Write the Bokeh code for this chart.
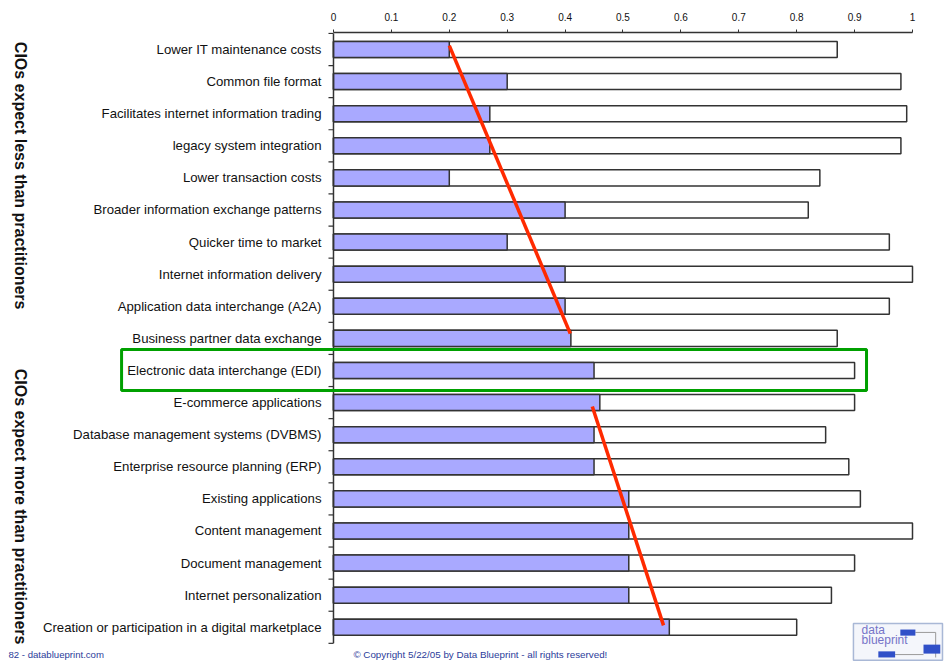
from math import pi
from bokeh.plotting import figure
from bokeh.models import Range1d, LinearAxis, FixedTicker
from bokeh.core.properties import value
from bokeh.embed import file_html
from bokeh.resources import INLINE

# ---------------- data ----------------
categories = [
    "Lower IT maintenance costs",
    "Common file format",
    "Facilitates internet information trading",
    "legacy system integration",
    "Lower transaction costs",
    "Broader information exchange patterns",
    "Quicker time to market",
    "Internet information delivery",
    "Application data interchange (A2A)",
    "Business partner data exchange",
    "Electronic data interchange (EDI)",
    "E-commerce applications",
    "Database management systems (DVBMS)",
    "Enterprise resource planning (ERP)",
    "Existing applications",
    "Content management",
    "Document management",
    "Internet personalization",
    "Creation or participation in a digital marketplace",
]
cio_scores = [0.20, 0.30, 0.27, 0.27, 0.20, 0.40, 0.30, 0.40, 0.40, 0.41,
              0.45, 0.46, 0.45, 0.45, 0.51, 0.51, 0.51, 0.51, 0.58]
practitioner_scores = [0.87, 0.98, 0.99, 0.98, 0.84, 0.82, 0.96, 1.00, 0.96, 0.87,
                       0.90, 0.90, 0.85, 0.89, 0.91, 1.00, 0.90, 0.86, 0.80]

x_ticks = [0.0, 0.1, 0.2, 0.3, 0.4, 0.5, 0.6, 0.7, 0.8, 0.9, 1.0]
x_tick_labels = ["0", "0.1", "0.2", "0.3", "0.4", "0.5", "0.6", "0.7", "0.8", "0.9", "1"]

# trend lines (x value, row position)
less_trend_x = [0.20, 0.409]
less_trend_rows = [-0.12, 8.85]
more_trend_x = [0.447, 0.570]
more_trend_rows = [11.12, 17.94]

highlight_category = "Electronic data interchange (EDI)"

group_labels = ["CIOs expect less than practitioners", "CIOs expect more than practitioners"]
group_rows = [3.93, 14.24]

footer_left = "82 - datablueprint.com"
footer_center = "\u00a9 Copyright 5/22/05 by Data Blueprint  - all rights reserved!"

# ---------------- figure ----------------
n = len(categories)
rows = list(range(n))

p = figure(width=945, height=662,
           x_range=Range1d(-0.5751, 1.0570),
           y_range=Range1d(19.097, -0.5296),
           x_axis_type=None, y_axis_type=None,
           output_backend="svg", toolbar_location=None,
           min_border_left=0, min_border_right=0, min_border_bottom=0, min_border_top=32)
p.outline_line_color = None
p.grid.visible = False
p.background_fill_color = "white"
p.border_fill_color = "white"

ax = LinearAxis(ticker=FixedTicker(ticks=x_ticks, minor_ticks=[]),
                bounds=(0, 1),
                major_label_overrides=dict(zip(x_ticks, x_tick_labels)),
                major_tick_in=0, major_tick_out=3, minor_tick_in=0, minor_tick_out=0,
                axis_line_color="#333333", axis_line_width=1.5,
                major_tick_line_color="#333333",
                major_label_text_font="Liberation Sans",
                major_label_text_font_size="10px",
                major_label_text_color="#111111",
                major_label_standoff=9)
p.add_layout(ax, "above")

# bars
p.hbar(y=rows, left=0, right=practitioner_scores, height=0.5,
       fill_color="white", line_color="#333333", line_width=1.5)
p.hbar(y=rows, left=0, right=cio_scores, height=0.5,
       fill_color="#A9A9FF", line_color="#333333", line_width=1.5)

# category axis (drawn at x=0)
boundaries = [r - 0.5 for r in range(n + 1)]
p.segment(x0=[0], y0=[boundaries[0]], x1=[0], y1=[boundaries[-1]],
          line_color="#333333", line_width=1.5)
p.ray(x=[0] * len(boundaries), y=boundaries, length=5, length_units="screen",
      angle=pi, line_color="#333333", line_width=1.2)
p.text(x=[0] * n, y=rows, text=categories, x_offset=-12,
       text_align="right", text_baseline="middle",
       text_font=value("Liberation Sans"), text_font_size="13.2px", text_color="#111111")

# trend lines
p.line(less_trend_x, less_trend_rows, line_color="#FF2A00", line_width=3.5)
p.line(more_trend_x, more_trend_rows, line_color="#FF2A00", line_width=3.5)

# highlight box
hi = categories.index(highlight_category)
p.quad(left=[-0.366], right=[0.9206], top=[hi - 0.654], bottom=[hi + 0.62],
       fill_color=None, line_color="#00A000", line_width=3)

# group labels
p.text(x=[-0.5406] * 2, y=group_rows, text=group_labels, angle=-pi / 2,
       text_align="center", text_baseline="middle",
       text_font=value("Liberation Sans"), text_font_size="16px",
       text_font_style="bold", text_color="#111111")

# footer
p.text(x=[-0.5613], y=[18.86], text=[footer_left], text_align="left", text_baseline="middle",
       text_font=value("Liberation Sans"), text_font_size="9.6px", text_color="#2B3C9A")
p.text(x=[0.256], y=[18.86], text=[footer_center], text_align="center", text_baseline="middle",
       text_font=value("Liberation Sans"), text_font_size="9.8px", text_color="#2B3C9A")

# logo
p.quad(left=[0.898], right=[1.0518], top=[17.88], bottom=[19.03],
       fill_color="#F4F6FB", line_color="#A9B8D6", line_width=1.5)
p.segment(x0=[1.005, 1.040, 0.970], y0=[18.16, 18.16, 18.85],
          x1=[1.040, 1.040, 1.019], y1=[18.16, 18.94, 18.85],
          line_color="#9A9A9A", line_width=1)
p.text(x=[0.912], y=[18.10], text=["data"], text_align="left", text_baseline="middle",
       text_font=value("Liberation Sans"), text_font_size="12px", text_color="#7474C8")
p.text(x=[0.912], y=[18.41], text=["blueprint"], text_align="left", text_baseline="middle",
       text_font=value("Liberation Sans"), text_font_size="12px", text_color="#7474C8")
p.quad(left=[0.979, 1.019, 0.941], right=[1.005, 1.048, 0.970],
       top=[18.07, 18.54, 18.75], bottom=[18.26, 18.82, 18.94],
       fill_color="#3050C8", line_color=None)

open("out.html", "w").write(file_html(p, INLINE))
